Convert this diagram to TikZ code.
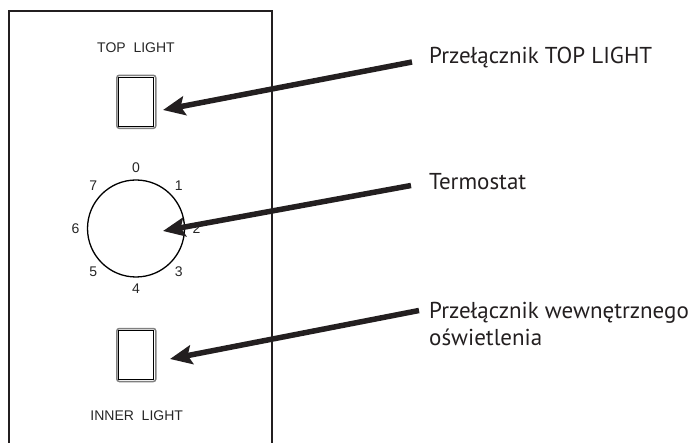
\documentclass[tikz,border=0pt]{standalone}
\usepackage{fontspec}
\setmainfont{PT Sans}
\newfontfamily\panelfont{Liberation Sans}
\usetikzlibrary{arrows.meta,calc}
\definecolor{ink}{HTML}{231F20}

\begin{document}
\begin{tikzpicture}[x=1pt,y=-1pt,
  caption/.style={font=\fontsize{23}{27}\selectfont, text=ink, inner sep=0pt,
    anchor=base west, align=left},
  paneltext/.style={font=\panelfont\fontsize{14}{16}\selectfont, text=black!85, inner sep=0pt},
  switchbox/.style={draw=black!50, line width=1.5pt, rounded corners=2.5pt,
    minimum width=39pt, minimum height=53pt, inner sep=0pt},
  switchface/.style={draw=black, line width=0.9pt,
    minimum width=35pt, minimum height=49pt, inner sep=0pt},
  pointer/.style={line width=5.5pt, draw=ink,
    -{Stealth[length=22pt,width=19pt,inset=4pt]}}]

\useasboundingbox (0,0) rectangle (698,443);

% front panel (runs off the bottom edge)
\draw[ink, line width=2pt] (9,450) -- (9,11) -- (272,11) -- (272,450);

% top light switch
\node[paneltext] (toplbl) at (136,48) {TOP\ \ LIGHT};
\node[switchbox] (sw1) at (136.3,101.8) {};
\node[switchface] (sw1f) at (sw1.center) {};

% thermostat dial with its scale
\node[draw=black, line width=1.3pt, circle, minimum size=97pt, inner sep=0pt] (dial) at (136,228.5) {};
\foreach \n/\a in {0/90,1/45,2/0,3/-45,4/-90,5/-135,6/180,7/135}
  \node[paneltext] (d\n) at ($(dial.center)+(\a:60.5 and -60.5)$) {\n};

% inner light switch
\node[switchbox] (sw2) at (136.3,355) {};
\node[switchface] (sw2f) at (sw2.center) {};
\node[paneltext] (innerlbl) at (136.7,415.5) {INNER\ \ LIGHT};

% captions (a two-line node sits on the baseline of its last line)
\node[caption] (c1) at (429,64) {Przełącznik TOP LIGHT};
\node[caption] (c2) at (429,190) {Termostat};
\node[caption] (c3) at (429,345) {Przełącznik wewnętrznego\\oświetlenia};

% pointers
\coordinate (s1) at (412,62);
\coordinate (t1) at (163,110);
\coordinate (s2) at (411,185.5);
\coordinate (t2) at (163,231);
\coordinate (s3) at (419,310.5);
\coordinate (t3) at (170,359);
\draw[pointer] (s1) -- (t1);
\draw[pointer] (s2) -- (t2);
\draw[pointer] (s3) -- (t3);
\end{tikzpicture}
\end{document}
